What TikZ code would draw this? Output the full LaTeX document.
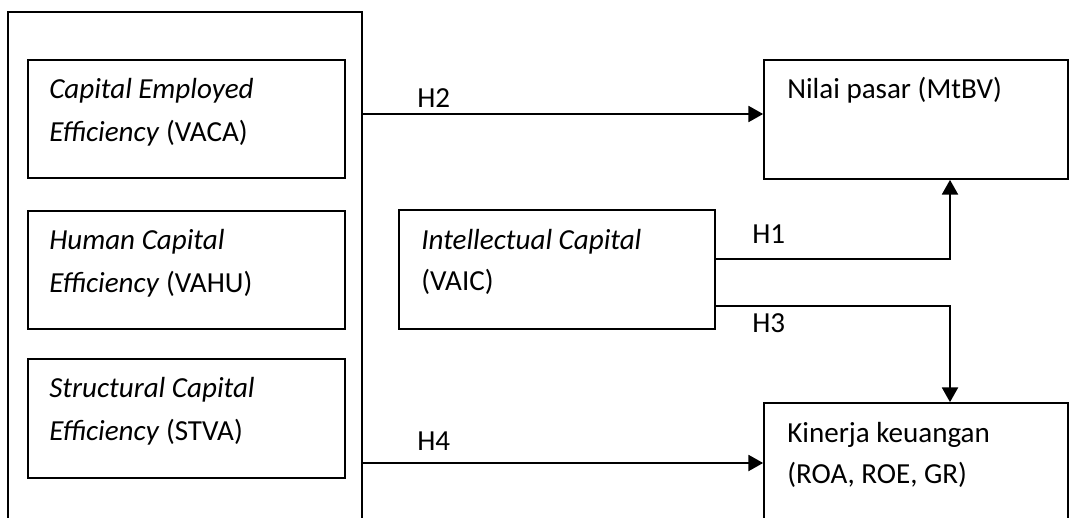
\documentclass[tikz,border=0pt]{standalone}
\usepackage{fontspec}
\setmainfont{Carlito}
\usetikzlibrary{fit,arrows.meta}
\tikzset{
  box/.style={draw, line width=1.3pt, inner sep=0pt, rectangle},
  txt/.style={anchor=base west, inner sep=0pt, font=\fontsize{21.8}{26}\selectfont},
  arr/.style={line width=1.4pt, -{Triangle[length=11pt,width=12pt]}},
}
\begin{document}
\begin{tikzpicture}[x=0.75pt,y=-0.75pt]
\clip (0,0) rectangle (1072,518);
\fill[white] (0,0) rectangle (1072,518);
% boxes
\node[box, fit={(8,12)(362,580)}] (outer) {};
\node[box, fit={(28,60)(345,178)}] (vaca) {};
\node[box, fit={(28,211)(345,329)}] (vahu) {};
\node[box, fit={(28,359)(345,478)}] (stva) {};
\node[box, fit={(399,210)(715,329)}] (ic) {};
\node[box, fit={(764,60)(1068,179)}] (nilai) {};
\node[box, fit={(764,403)(1068,580)}] (kin) {};
% texts
\node[txt] (t1) at (49,98) {\itshape Capital Employed};
\node[txt] (t2) at (49,141) {\textit{Efficiency} (VACA)};
\node[txt] (t3) at (49,249) {\itshape Human Capital};
\node[txt] (t4) at (49,292) {\textit{Efficiency} (VAHU)};
\node[txt] (t5) at (49,397) {\itshape Structural Capital};
\node[txt] (t6) at (49,440) {\textit{Efficiency} (STVA)};
\node[txt] (t7) at (421,249) {\itshape Intellectual Capital};
\node[txt] (t8) at (421,290) {(VAIC)};
\node[txt] (t9) at (787,98) {Nilai pasar (MtBV)};
\node[txt] (t10) at (787,442) {Kinerja keuangan};
\node[txt] (t11) at (787,483) {(ROA, ROE, GR)};
% connector helpers
\coordinate (h2y) at (0,114);
\coordinate (h1y) at (0,259);
\coordinate (h3y) at (0,306);
\coordinate (h4y) at (0,463);
\coordinate (vx) at (950,0);
% connectors
\draw[arr] (outer.east |- h2y) -- (nilai.west |- h2y);
\draw[arr] (ic.east |- h1y) -| (nilai.south -| vx);
\draw[arr] (ic.east |- h3y) -| (kin.north -| vx);
\draw[arr] (outer.east |- h4y) -- (kin.west |- h4y);
% labels
\node[txt] (lh2) at (417,107) {H2};
\node[txt] (lh1) at (752,243) {H1};
\node[txt] (lh3) at (752,332) {H3};
\node[txt] (lh4) at (417,450) {H4};
\end{tikzpicture}
\end{document}
